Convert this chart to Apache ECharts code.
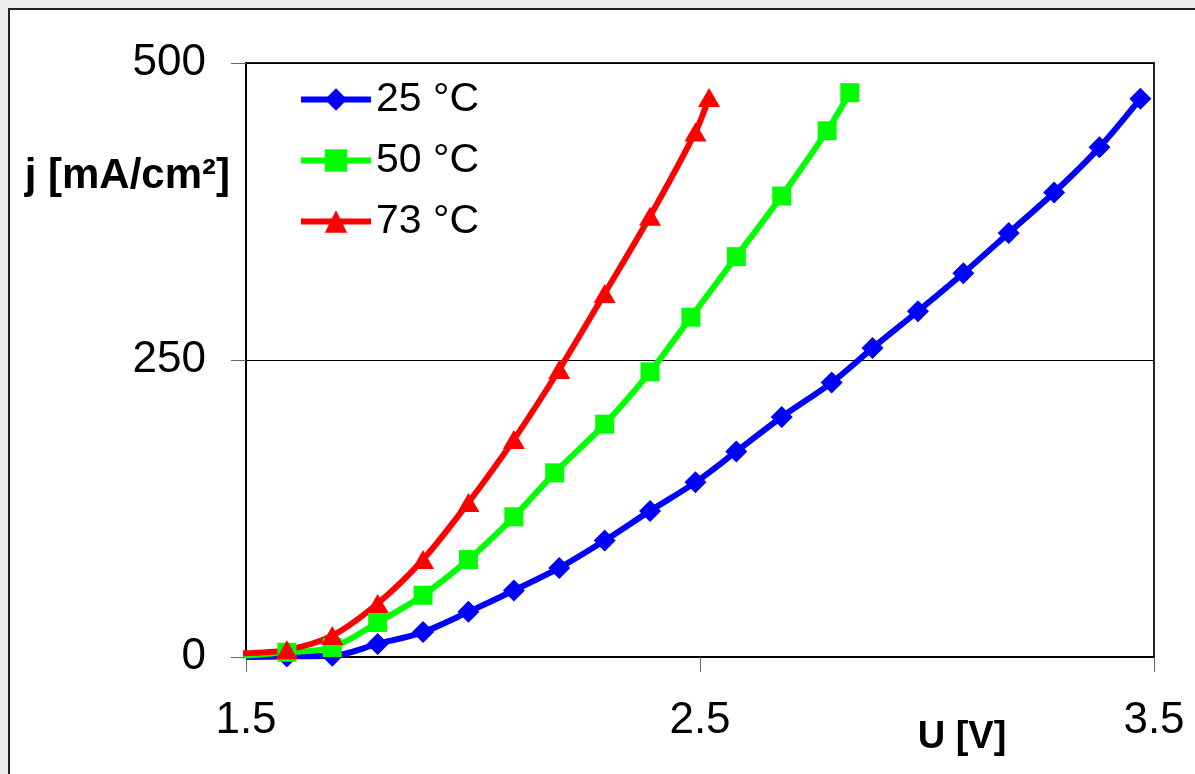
<!DOCTYPE html>
<html>
<head>
<meta charset="utf-8">
<script src="https://cdn.jsdelivr.net/npm/echarts@6/dist/echarts.min.js"></script>
<style>
  html, body { margin: 0; padding: 0; background: #ededed; overflow: hidden; }
  .frame {
    position: absolute; left: 8px; top: 8px; width: 1300px; height: 900px;
    background: #fff; border-left: 2px solid #222; border-top: 2px solid #222;
  }
  #chart { position: absolute; left: 0; top: 0; width: 1195px; height: 774px; }
</style>
</head>
<body>
<div class="frame"></div>
<div id="chart"></div>
<script>
// U [V] and j [mA/cm2]
var u25 = [1.50, 1.59, 1.69, 1.79, 1.89, 1.99, 2.09, 2.19, 2.29, 2.39, 2.49,
           2.58, 2.68, 2.79, 2.88, 2.98, 3.08, 3.18, 3.28, 3.38, 3.47];
var j25 = [0, 0.5, 1, 11, 21, 38, 56, 75, 98, 123, 147,
           173, 202, 231, 260, 291, 323, 357, 391, 429, 470];

var u50 = [1.49, 1.59, 1.69, 1.79, 1.89, 1.99, 2.09, 2.18, 2.29, 2.39, 2.48,
           2.58, 2.68, 2.78, 2.83];
var j50 = [1, 4, 8, 29, 52, 82, 118, 155, 196, 240, 286,
           337, 388, 443, 475];

var u73 = [1.487, 1.59, 1.69, 1.79, 1.89, 1.99, 2.09, 2.19, 2.29, 2.39, 2.49, 2.52];
var j73 = [3, 6, 18, 45, 82, 130, 183, 242, 306, 371, 442, 471];

var names = ["25 °C", "50 °C", "73 °C"];
var colors = ["#0000ff", "#00ff00", "#ff0000"];

var font = "Liberation Sans, Arial, sans-serif";

function pairs(xs, ys) {
  var out = [];
  for (var i = 0; i < xs.length; i++) {
    var p = { value: [xs[i], ys[i]] };
    if (i === 0) p.symbol = "none"; // first point sits on the axis, no marker
    out.push(p);
  }
  return out;
}

function makeSeries(name, color, symbol, size, data) {
  return {
    name: name,
    type: "line",
    smooth: 0.3,
    clip: false,
    symbol: symbol,
    symbolSize: size,
    showAllSymbol: true,
    data: data,
    lineStyle: { color: color, width: 6 },
    itemStyle: { color: color, opacity: 1 },
    emphasis: { disabled: true }
  };
}

var chart = echarts.init(document.getElementById("chart"));
chart.setOption({
  animation: false,
  backgroundColor: "transparent",
  color: colors,
  grid: {
    left: 246, right: 41, top: 63, bottom: 117,
    show: true, borderColor: "#222", borderWidth: 2, backgroundColor: "transparent"
  },
  legend: {
    orient: "vertical",
    left: 298,
    top: 79,
    padding: 0,
    itemWidth: 70,
    itemHeight: 28,
    itemGap: 20,
    lineStyle: { width: 6 },
    textStyle: { fontSize: 41, fontFamily: font, color: "#000", lineHeight: 40 },
    data: names
  },
  xAxis: {
    type: "value",
    min: 1.5, max: 3.5, interval: 1,
    name: "U [V]",
    nameLocation: "end",
    nameGap: -192,
    nameTextStyle: {
      fontSize: 38, fontWeight: "bold", fontFamily: font, color: "#000",
      align: "center", verticalAlign: "top", padding: [62, 0, 0, 0]
    },
    axisLine: { lineStyle: { color: "#000", width: 2 } },
    axisTick: { length: 15, lineStyle: { color: "#666", width: 1 } },
    axisLabel: {
      fontSize: 44, fontFamily: font, color: "#000", margin: 42,
      formatter: function (v) { return v.toFixed(1); }
    },
    splitLine: { show: false }
  },
  yAxis: {
    type: "value",
    min: 0, max: 500, interval: 250,
    name: "j [mA/cm²]",
    nameLocation: "end",
    nameGap: -113,
    nameTextStyle: {
      fontSize: 42, fontWeight: "bold", fontFamily: font, color: "#000",
      align: "right", verticalAlign: "middle", padding: [0, 16, 0, 0]
    },
    axisLine: { show: true, lineStyle: { color: "#000", width: 2 } },
    axisTick: { show: true, length: 15, lineStyle: { color: "#666", width: 1 } },
    axisLabel: { fontSize: 44, fontFamily: font, color: "#000", margin: 40 },
    splitLine: { show: true, lineStyle: { color: "#000", width: 1 } }
  },
  series: [
    makeSeries(names[0], colors[0], "diamond", 22, pairs(u25, j25)),
    makeSeries(names[1], colors[1], "rect", 19, pairs(u50, j50)),
    makeSeries(names[2], colors[2], "triangle", [22, 19], pairs(u73, j73))
  ]
});
</script>
</body>
</html>
